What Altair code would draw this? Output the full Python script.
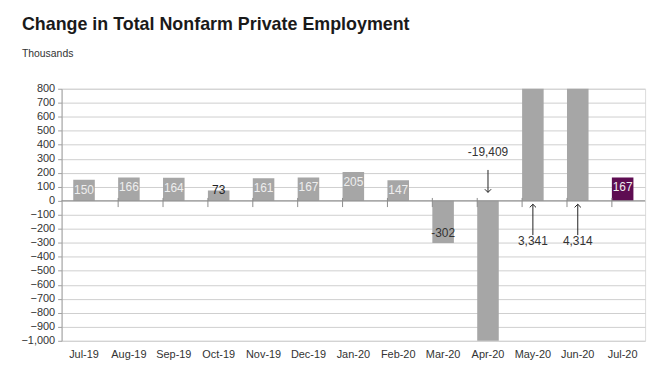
import altair as alt
import pandas as pd

months = ["Jul-19", "Aug-19", "Sep-19", "Oct-19", "Nov-19", "Dec-19", "Jan-20",
          "Feb-20", "Mar-20", "Apr-20", "May-20", "Jun-20", "Jul-20"]
values = [150, 166, 164, 73, 161, 167, 205, 147, -302, -19409, 3341, 4314, 167]
bar_colors = ["#a6a6a6"] * 12 + ["#5e0d52"]
# in-bar labels (empty where the label is drawn as an annotation)
bar_labels = ["150", "166", "164", "73", "161", "167", "205", "147", "", "", "", "", "167"]
label_y = [80, 96, 94, 78, 91, 97, 135, 77, None, None, None, None, 97]
label_colors = ["#eeeeee", "#eeeeee", "#eeeeee", "#222222", "#eeeeee", "#eeeeee", "#eeeeee",
                "#eeeeee", "#eeeeee", "#eeeeee", "#eeeeee", "#eeeeee", "#eeeeee"]

# annotations
ann_months = ["Mar-20", "Apr-20", "May-20", "Jun-20"]
ann_text = ["-302", "-19,409", "3,341", "4,314"]
ann_y = [-227, 347, -285, -285]
arrow_months = ["Apr-20", "May-20", "Jun-20"]
arrow_from = [220, -245, -245]
arrow_to = [60, -25, -25]
arrow_shape = ["M-1,-1L0,0L1,-1", "M-1,1L0,0L1,1", "M-1,1L0,0L1,1"]

df = pd.DataFrame({"month": months, "value": values, "color": bar_colors,
                   "label": bar_labels, "label_y": label_y, "lcolor": label_colors})
ann = pd.DataFrame({"month": ann_months, "text": ann_text, "y": ann_y})
arr = pd.DataFrame({"month": arrow_months, "y1": arrow_from, "y2": arrow_to, "shape": arrow_shape})
ticks = pd.DataFrame({"month": months[1:], "a": [20] * 12, "b": [-45] * 12})

FONT = "Liberation Sans"
yscale = alt.Scale(domain=[-1000, 800], nice=False, zero=False)
xscale = alt.Scale(paddingInner=0.52, paddingOuter=0.26)
yticks = list(range(-1000, 801, 100))
xaxis = alt.Axis(title=None, labelAngle=0, ticks=False, domain=False,
                 labelFontSize=11, labelColor="#333333", labelFont=FONT,
                 labelPadding=8)
yaxis = alt.Axis(title=None, values=yticks, format=",.0f", labelFontSize=11,
                 labelColor="#333333", labelFont=FONT, gridColor="#cfcfcf",
                 domainColor="#a0a0a0", tickColor="#a0a0a0", tickSize=4,
                 labelPadding=3, labelOverlap=False, labelBound=False)


def xs(**kw):
    return alt.X("month:N", sort=months, scale=xscale, axis=xaxis, **kw)


def ys(field):
    return alt.Y(field, scale=yscale, axis=yaxis)


bars = alt.Chart(df).mark_bar(clip=True).encode(
    x=xs(),
    y=ys("value:Q"),
    color=alt.Color("color:N", scale=None),
)

zero = alt.Chart(pd.DataFrame({"z": [0]})).mark_rule(color="#8c8c8c", strokeWidth=1).encode(
    y=ys("z:Q"))

tickmarks = alt.Chart(ticks).mark_rule(color="#8c8c8c").encode(
    x=xs(bandPosition=0),
    y=ys("a:Q"),
    y2="b:Q",
)

labels = alt.Chart(df).mark_text(font=FONT, fontSize=12, baseline="middle").encode(
    x=xs(),
    y=ys("label_y:Q"),
    text="label:N",
    color=alt.Color("lcolor:N", scale=None),
).transform_filter("datum.label != ''")

ann_text_layer = alt.Chart(ann).mark_text(font=FONT, fontSize=12, color="#333333",
                                          baseline="middle").encode(
    x=xs(),
    y=ys("y:Q"),
    text="text:N",
)

arrow_shaft = alt.Chart(arr).mark_rule(color="#222222", strokeWidth=1).encode(
    x=xs(),
    y=ys("y1:Q"),
    y2="y2:Q",
)
arrow_head = alt.Chart(arr).mark_point(filled=False, color="#222222", size=40,
                                       strokeWidth=1, opacity=1).encode(
    x=xs(),
    y=ys("y2:Q"),
    shape=alt.Shape("shape:N", scale=None),
)

chart = alt.layer(bars, zero, tickmarks, labels, ann_text_layer, arrow_shaft, arrow_head).properties(
    width=588, height=254,
    autosize=alt.AutoSizeParams(type="none"),
    padding={"left": 54, "top": 80, "right": 12, "bottom": 20},
    title=alt.TitleParams(
        text="Change in Total Nonfarm Private Employment",
        subtitle="Thousands",
        anchor="start", frame="group", dx=-40, offset=23,
        font=FONT, fontSize=18, fontWeight="bold", color="#1a1a1a",
        subtitleFont=FONT, subtitleFontSize=10.5, subtitleColor="#333333",
        subtitlePadding=16,
    ),
).configure_view(stroke="#cfcfcf").configure(background="white")

chart.save("out.html", embed_options={"renderer": "svg", "actions": False})
